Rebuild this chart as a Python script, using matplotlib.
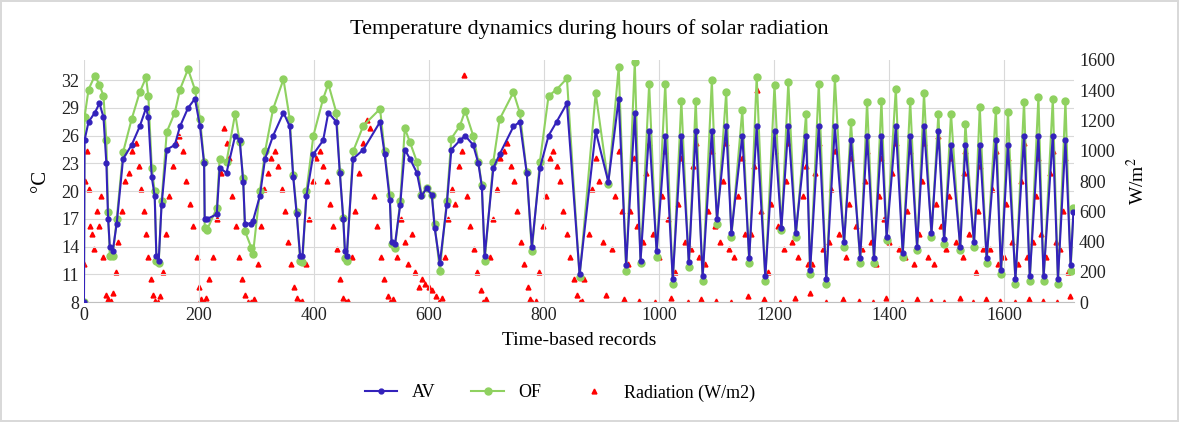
import matplotlib
matplotlib.use("Agg")
import matplotlib.pyplot as plt

plt.rcParams["font.family"] = ["Liberation Serif", "DejaVu Serif"]
plt.rcParams["mathtext.fontset"] = "stix"

# ── Data ──────────────────────────────────────────────────────────────────────
rec_a = [0, 1, 8, 19, 27, 34, 39, 42, 45, 50,
         57, 68, 83, 97, 108, 112, 118, 123, 126, 130,
         135, 144, 158, 167, 181, 193, 202, 209, 210, 214,
         231, 236, 248, 263, 271, 277, 280, 291, 294, 306,
         315, 329, 347, 358, 364, 370, 376, 380, 387, 399,
         416, 425, 439, 445, 451, 454, 457, 468, 486, 515,
         523, 532, 535, 541, 550, 558, 567, 579, 587, 596,
         605, 610, 619, 631, 639, 654, 663, 677, 686, 692,
         697, 712, 723, 747, 758, 770, 779, 793, 808, 822]
of_a = [8, 28, 31, 32.5, 31.5, 30.3, 25.5, 17.8, 13, 13,
        17, 24.2, 27.8, 30.7, 32.3, 30.3, 22.5, 20, 12.5, 12.2,
        18.9, 26.4, 28.5, 31, 33.2, 31, 27.8, 23.2, 16, 15.8,
        18.2, 23.5, 23.2, 28.4, 25.3, 21.4, 15.7, 13.9, 13.2, 20,
        24.3, 28.9, 32.1, 27.8, 21.8, 17.8, 12.5, 12.3, 20, 26,
        30, 31.6, 28.5, 22.1, 17.1, 12.8, 12.5, 24.3, 27.1, 28.9,
        24.3, 19.6, 14.3, 13.9, 18.9, 26.8, 25.3, 23.2, 19.6, 20.3,
        19.6, 16.4, 11.4, 18.9, 25.7, 27.1, 28.7, 26, 23.2, 20.7,
        12.5, 23.2, 27.8, 30.7, 28.5, 22.1, 13.5, 23.2, 30.3, 31]
av_a = [8, 25.5, 27.5, 28.5, 29.5, 28, 23, 17, 14, 13.5,
        16.5, 23.5, 25, 27, 29, 28, 21.5, 19.5, 13, 12.5,
        18.5, 24.5, 25, 27, 29, 30, 27, 23, 17, 17,
        17.5, 22.5, 22, 26, 25.5, 21, 16.5, 16.5, 16.8, 19.5,
        23.5, 26, 28.5, 27, 21.5, 17.5, 13, 13, 19.5, 24,
        25.5, 28.5, 27.5, 22, 17, 13.5, 13, 23.5, 24.5, 27.5,
        24, 19, 14.5, 14.3, 18.5, 24.5, 23.5, 22, 19.5, 20.3,
        19.6, 16, 12.2, 18.5, 24.5, 25.5, 26, 25, 23, 20.5,
        13, 22.5, 24, 27, 27.5, 22, 14, 22.5, 26, 27.5]

rec_b = [840, 862, 890, 912, 930, 943, 958, 968, 983, 996,
         1011, 1024, 1039, 1052, 1064, 1076, 1092, 1101, 1117, 1126,
         1145, 1157, 1170, 1185, 1201, 1213, 1225, 1238, 1256, 1263,
         1278, 1291, 1306, 1322, 1334, 1350, 1362, 1374, 1387, 1396,
         1412, 1424, 1437, 1449, 1461, 1474, 1486, 1496, 1508, 1524,
         1533, 1548, 1558, 1570, 1586, 1595, 1607, 1620, 1635, 1645,
         1660, 1669, 1685, 1694, 1707, 1716, 1721]
of_b = [32.2, 10.7, 30.6, 20.8, 33.4, 11.4, 34, 12.2, 31.6, 12.9,
        31.6, 10, 29.8, 11.8, 29.8, 10.3, 32, 16.5, 30.7, 15,
        28.8, 12.2, 32.4, 10.3, 31.5, 15.8, 31.8, 15, 28.4, 11,
        31.6, 10, 32.2, 14, 27.5, 12.2, 29.7, 12.2, 29.8, 14.7,
        31.1, 12.9, 29.8, 13.6, 30.6, 15, 28.4, 14.3, 28.4, 13.6,
        27.3, 14, 29.1, 12.2, 28.8, 11, 28.6, 10, 29.7, 10.3,
        30.2, 10.3, 30, 10, 29.8, 11.4, 18.2]
av_b = [29.5, 11, 26.5, 21, 30, 12, 28.5, 12.5, 26.5, 13.5,
        26, 10.5, 26, 12.3, 26.5, 10.8, 26.5, 17, 27, 15.5,
        26, 12.8, 27, 10.8, 26.5, 16, 27, 15.5, 26, 11.5,
        27, 10.5, 27, 14.5, 25.5, 12.8, 26, 12.8, 26, 15,
        27, 13.3, 26, 14, 27, 15.5, 26.5, 14.8, 25, 14,
        25, 14.5, 25, 12.8, 25.5, 11.5, 25, 10.5, 26, 10.8,
        26, 10.8, 26, 10.5, 25.5, 12, 17.8]

rad_x = [0, 2, 5, 8, 10, 14, 18, 22, 26, 30, 34, 38, 41, 44, 47, 50,
         55, 60, 66, 72, 78, 84, 90, 96, 100, 104, 108, 112, 116, 120, 124, 128, 132,
         137, 142, 148, 155, 160, 166, 172, 178, 184, 190, 196, 200, 204, 208, 212,
         218, 225, 232, 238, 243, 248, 253, 258, 264, 270, 275, 280, 285, 290, 296,
         302, 308, 314, 320, 326, 332, 338, 344, 350, 355, 360, 365, 370, 375, 380,
         386, 392, 398, 404, 410, 416, 422, 428, 434, 440, 446, 450, 455, 460,
         466, 472, 478, 485, 492, 498, 504, 510, 516, 522, 528, 533, 538,
         545, 552, 558, 564, 570, 576, 582, 588, 594, 600, 606, 612, 617, 622,
         628, 634, 640, 646, 652, 658, 661, 666, 672, 678, 684, 690, 694, 700,
         706, 712, 718, 724, 730, 736, 742, 748, 754, 760, 766, 772, 776, 780, 786,
         792, 798, 804, 810, 816, 822, 828, 834, 840, 846, 852, 858, 862, 866,
         870, 878, 884, 890, 896, 902, 908,
         918, 924, 930, 936, 940, 946, 950, 956, 962, 966,
         972, 978, 983, 990, 994, 1000, 1006, 1011, 1016, 1021,
         1028, 1034, 1039, 1045, 1050, 1056, 1060, 1064, 1070, 1074,
         1080, 1086, 1092, 1097, 1100, 1106, 1112, 1117, 1122, 1125,
         1130, 1138, 1145, 1150, 1155, 1160, 1165, 1170, 1177, 1183,
         1189, 1195, 1201, 1207, 1211, 1217, 1221, 1225, 1231, 1236,
         1242, 1250, 1256, 1260, 1262, 1267, 1272, 1278, 1285, 1290,
         1295, 1300, 1306, 1314, 1320, 1326, 1330, 1334, 1342, 1348,
         1354, 1358, 1362, 1368, 1373, 1378, 1382, 1387, 1392, 1395,
         1400, 1406, 1412, 1418, 1423, 1428, 1432, 1437, 1443, 1448,
         1453, 1457, 1461, 1468, 1473, 1478, 1482, 1486, 1491, 1495,
         1500, 1504, 1508, 1516, 1523, 1528, 1530, 1533, 1540, 1547,
         1552, 1555, 1558, 1564, 1569, 1575, 1580, 1586, 1590, 1594,
         1600, 1603, 1607, 1614, 1619, 1625, 1630, 1635, 1640, 1644,
         1650, 1655, 1660, 1664, 1668, 1674, 1680, 1685, 1690, 1693,
         1698, 1702, 1707, 1712, 1715]
rad_y = [250, 800, 1000, 750, 500, 450, 350, 600, 500, 700, 300, 50, 20, 0, 10, 60,
         200, 400, 600, 800, 850, 1000, 1050, 900, 750, 600, 450, 300, 150, 50, 10, 0, 40,
         200, 450, 700, 900, 1050, 1100, 1000, 800, 650, 500, 300, 100, 20, 0, 30,
         150, 300, 550, 850, 1150, 1050, 950, 700, 500, 300, 150, 50, 0, 0, 20,
         250, 500, 750, 850, 950, 1000, 900, 750, 600, 400, 250, 100, 30, 0, 10,
         250, 550, 800, 950, 1000, 900, 800, 650, 500, 350, 150, 30, 0, 10,
         300, 600, 850, 1050, 1200, 1150, 700, 500, 300, 150, 40, 0, 20,
         300, 550, 400, 250, 450, 200, 100, 150, 120, 100, 80, 40, 0, 30,
         300, 550, 750, 650, 900, 1000, 1500, 700, 500, 350, 200, 80, 0, 20,
         300, 550, 750, 950, 1000, 1050, 900, 800, 600, 400, 250, 100, 20, 0, 10,
         200, 500, 700, 950, 1000, 900, 800, 600, 450, 300, 150, 50, 0, 10,
         150, 450, 750, 950, 800, 400, 50,
         350, 700, 1000, 600, 20, 250, 600, 950, 500, 10,
         400, 850, 1050, 450, 0, 300, 700, 1000, 550, 30,
         200, 650, 950, 400, 0, 350, 900, 1050, 300, 20,
         250, 600, 1000, 500, 10, 400, 800, 1050, 350, 0,
         300, 700, 950, 450, 40, 450, 900, 1400, 600, 20,
         200, 650, 1000, 500, 0, 350, 800, 1050, 400, 30,
         300, 700, 900, 250, 60, 250, 850, 1050, 350, 0,
         400, 750, 1000, 450, 20, 300, 650, 950, 500, 10,
         350, 800, 1000, 400, 0, 250, 700, 950, 550, 30,
         400, 850, 1050, 350, 0, 300, 600, 1000, 250, 20,
         450, 800, 1050, 300, 10, 250, 650, 1100, 500, 0,
         350, 700, 950, 400, 30, 300, 850, 1000, 450, 0,
         200, 600, 900, 350, 20, 350, 750, 1000, 250, 10,
         300, 650, 950, 400, 0, 250, 800, 1050, 300, 20,
         400, 700, 950, 450, 10, 300, 850, 1000, 400, 0,
         350, 600, 950, 200, 40]

records = rec_a + rec_b
of_vals = of_a + of_b
av_vals = av_a + av_b

AV_COLOR = "#3322bb"
OF_COLOR = "#8fd160"

# ── Plot ───────────────────────────────────────────────────────────────────────
fig = plt.figure(figsize=(11.79, 4.22), dpi=100)
fig.patch.set_edgecolor("#d9d9d9")
fig.patch.set_linewidth(1.5)
ax = fig.add_axes([0.0712, 0.284, 0.8398, 0.574])
ax2 = ax.twinx()

ax.plot(records, av_vals, color=AV_COLOR, lw=1.5, marker="o", ms=3.5, label="AV", zorder=3)
ax.plot(records, of_vals, color=OF_COLOR, lw=1.5, marker="o", ms=5, label="OF", zorder=2)
ax2.plot(rad_x, rad_y, ls="none", marker="^", ms=3.5, color="#ff0000",
         label="Radiation (W/m2)")

ax.set_zorder(ax2.get_zorder() + 1)
ax.patch.set_visible(False)

ax.set_xlim(0, 1722)
ax.set_ylim(8, 34.2)
ax.set_yticks([8, 11, 14, 17, 20, 23, 26, 29, 32])
ax.set_xticks(range(0, 1601, 200))
ax2.set_ylim(0, 1600)
ax2.set_yticks(range(0, 1601, 200))

ax.grid(True, color="#d9d9d9", lw=0.8)
ax.set_axisbelow(True)
for a in (ax, ax2):
    for s in a.spines.values():
        s.set_visible(False)
    a.tick_params(length=0, labelsize=13, colors="#222222")
ax.spines["bottom"].set_visible(True)
ax.spines["bottom"].set_color("#bfbfbf")

ax.set_xlabel("Time-based records", fontsize=14, labelpad=6)
ax.set_ylabel("°C", fontsize=15, labelpad=8)
ax2.set_ylabel("W/m$^2$", fontsize=14, labelpad=8)
fig.suptitle("Temperature dynamics during hours of solar radiation", fontsize=16, y=0.955)

h1, l1 = ax.get_legend_handles_labels()
h2, l2 = ax2.get_legend_handles_labels()
fig.legend(h1 + h2, l1 + l2, loc="center", bbox_to_anchor=(0.475, 0.069), ncol=3,
           frameon=False, fontsize=13, columnspacing=2.0, handlelength=1.8)

fig.savefig("out.png", dpi=100)
